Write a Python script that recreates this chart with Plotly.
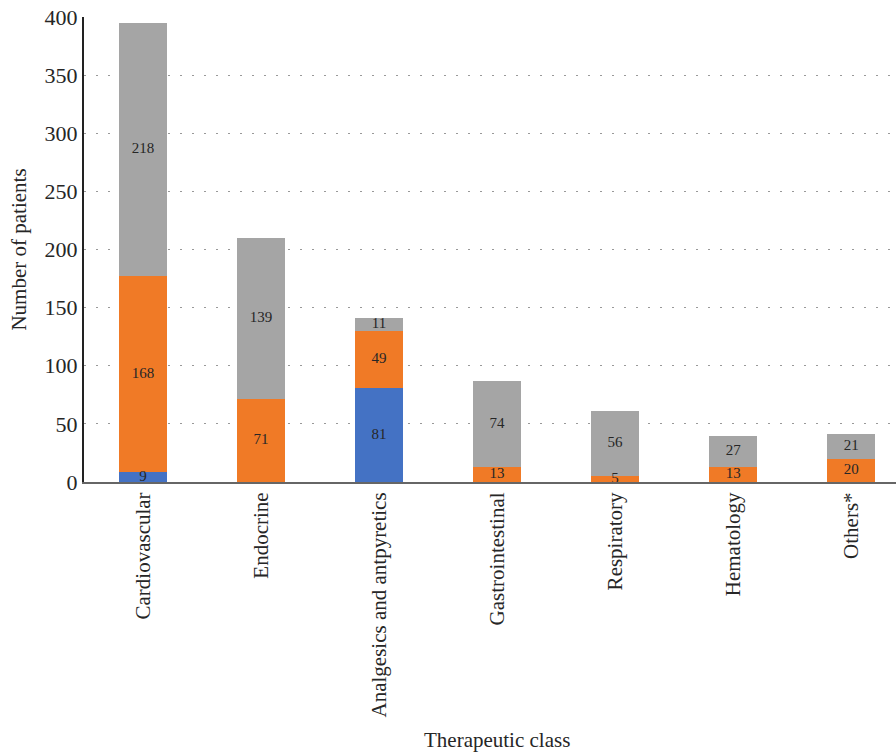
import plotly.graph_objects as go

categories = ["Cardiovascular", "Endocrine", "Analgesics and antpyretics",
              "Gastrointestinal", "Respiratory", "Hematology", "Others*"]
series_blue = [9, 0, 81, 0, 0, 0, 0]
series_orange = [168, 71, 49, 13, 5, 13, 20]
series_gray = [218, 139, 11, 74, 56, 27, 21]
y_ticks = [0, 50, 100, 150, 200, 250, 300, 350, 400]

FONT = "Liberation Serif"
TXT = "#262626"
colors = ["#4472C4", "#F07A26", "#A5A5A5"]
stack = [series_blue, series_orange, series_gray]
x = list(range(len(categories)))

fig = go.Figure()
for vals, col in zip(stack, colors):
    fig.add_trace(go.Bar(x=x, y=vals, marker=dict(color=col, line=dict(width=0)),
                         width=0.41, hoverinfo="skip", showlegend=False))

# value labels centred in each segment (zero segments are not labelled)
lx, ly, lt = [], [], []
for i in x:
    base = 0
    for vals in stack:
        v = vals[i]
        if v > 0:
            lx.append(i)
            ly.append(base + v / 2)
            lt.append(str(v))
        base += v
fig.add_trace(go.Scatter(x=lx, y=ly, text=lt, mode="text",
                         textfont=dict(family=FONT, size=15, color=TXT),
                         hoverinfo="skip", showlegend=False, cliponaxis=False))

fig.update_layout(
    barmode="stack",
    width=896, height=752,
    margin=dict(l=84, r=0, t=17, b=270),
    plot_bgcolor="white", paper_bgcolor="white",
    font=dict(family=FONT, color=TXT),
    annotations=[dict(text="Therapeutic class", xref="paper", yref="paper",
                      x=0.5086, y=-0.5, yanchor="middle", xanchor="center", yshift=-25,
                      showarrow=False, font=dict(family=FONT, size=21, color=TXT))],
)
fig.update_xaxes(
    tickmode="array", tickvals=x, ticktext=categories,
    range=[-0.5, 6.38], tickangle=-90,
    tickfont=dict(family=FONT, size=21, color=TXT),
    showline=True, linecolor="#666666", linewidth=2,
    showgrid=False, ticks="", zeroline=False,
)
fig.update_yaxes(
    range=[0, 400], tickvals=y_ticks,
    tickfont=dict(family=FONT, size=22, color=TXT),
    showline=True, linecolor="#222222", linewidth=2,
    showgrid=True, gridcolor="#999999", griddash="2px,10px", gridwidth=1.2,
    zeroline=False, ticks="", ticklen=0,
    title=dict(text="Number of patients", font=dict(family=FONT, size=21, color=TXT), standoff=12),
)

fig.write_html("out.html")
